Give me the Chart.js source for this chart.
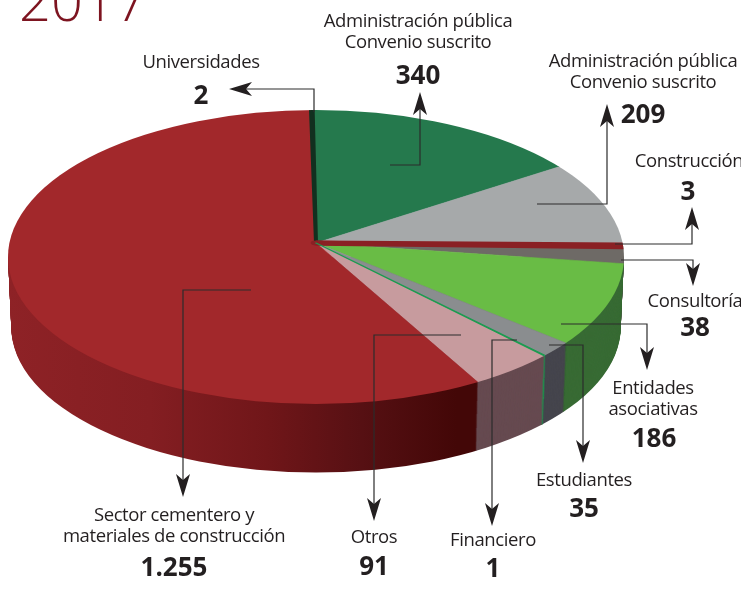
<!DOCTYPE html>
<html><head><meta charset="utf-8">
<style>html,body{margin:0;padding:0;background:#fff;overflow:hidden}canvas{display:block}</style>
<script src="https://cdn.jsdelivr.net/npm/chart.js@4"></script></head>
<body><canvas id="c" width="741" height="601"></canvas>
<script>
const categories=["Universidades","Administración pública (340)","Administración pública (209)","Construcción","Consultoría","Entidades asociativas","Estudiantes","Financiero","Otros","Sector cementero y materiales de construcción"];
const values=[2,340,209,3,38,186,35,1,91,1255];
const topColors=["#12301f","#25794d","#a6a9aa","#8a2024","#6e6a66","#69bc45","#8a8d8f","#1b9c50","#c79b9e","#a2282b"];
const sideColors=["#12301f","#25794d","#8a8d8f","#6a1a1c","#55534f","#386b34","#45454d","#1b9c50","#664a50","#7a1a1e"];
const thinBorder=[3,0,0,8,0,0,0,1.5,0,0];

// geometry of the tilted disc on the page: the wedges fan out from the apex, the rim is an ellipse around a lower centre
const apex={x:316,y:243},rim={x:316,y:257,rx:308,ry:147},fanX=400,fanUp=186,fanDown=200,depth=70,taper=0.00015;

const notes=[
 {lines:["Universidades"],x:201,y:[68],num:"2",nx:201,ny:104},
 {lines:["Administración pública","Convenio suscrito"],x:418,y:[27,48],num:"340",nx:418,ny:84},
 {lines:["Administración pública","Convenio suscrito"],x:643,y:[67,88],num:"209",nx:643,ny:123},
 {lines:["Construcción"],x:689,y:[167],num:"3",nx:688,ny:200},
 {lines:["Consultoría"],x:695,y:[307],num:"38",nx:695,ny:336},
 {lines:["Entidades","asociativas"],x:653,y:[394,415],num:"186",nx:654,ny:447},
 {lines:["Estudiantes"],x:584,y:[486],num:"35",nx:584,ny:517},
 {lines:["Financiero"],x:493,y:[546],num:"1",nx:493,ny:577},
 {lines:["Otros"],x:374,y:[543],num:"91",nx:374,ny:575},
 {lines:["Sector cementero y","materiales de construcción"],x:174,y:[521,542],num:"1.255",nx:174,ny:576}
];
const leaders=[
 [[314,112],[314,89],[229,89]],
 [[390,165],[420,165],[420,92]],
 [[537,204],[607,204],[607,104]],
 [[615,244],[692,244],[692,207]],
 [[621,260],[693,260],[693,286]],
 [[561,324],[647,324],[647,370]],
 [[549,345],[583,345],[583,463]],
 [[517,340],[492,340],[492,526]],
 [[461,335],[374,335],[374,521]],
 [[251,290],[183,290],[183,497]]
];

function fanTransform(ctx,arc,down,t){
 const r=arc.outerRadius;
 ctx.translate(apex.x,apex.y+t);
 ctx.scale(fanX/r,(down?fanDown:fanUp)/r);
 ctx.translate(-arc.x,-arc.y);
}
function flatOptions(bg,bw){
 return {backgroundColor:bg,borderColor:bg,borderWidth:bw,borderAlign:'center',borderJoinStyle:'round',borderRadius:0,spacing:0,offset:0,circular:true,selfJoin:false,borderDash:[],borderDashOffset:0};
}
function drawArc(ctx,arc,bg,bw){
 const keep=arc.options;
 arc.options=flatOptions(bg,bw);
 arc.draw(ctx);
 arc.options=keep;
}
const discPlugin={
 id:'disc',
 beforeDatasetDraw(chart,args){
  const ctx=chart.ctx,arcs=args.meta.data,W=chart.width,Hh=chart.height,first=arcs[0];
  // side wall, stacked layers of the same arcs
  const r=first.outerRadius;
  const redSide=ctx.createLinearGradient(first.x-r*0.77,0,first.x+r*0.41,0);
  redSide.addColorStop(0,"#8e2226");redSide.addColorStop(.3,"#841e22");
  redSide.addColorStop(.55,"#701619");redSide.addColorStop(.75,"#561013");redSide.addColorStop(.95,"#430707");redSide.addColorStop(1,"#430707");
  const last=arcs.length-1;
  for(let t=depth;t>=1;t--){
   const k=1-taper*t;
   ctx.save();
   ctx.beginPath();ctx.rect(0,rim.y+t-1,W,Hh);ctx.clip();
   ctx.beginPath();ctx.ellipse(rim.x,rim.y+t,rim.rx*k,rim.ry*k,0,0,Math.PI*2);ctx.clip();
   fanTransform(ctx,first,true,t);
   arcs.forEach((a,i)=>drawArc(ctx,a,i===last?redSide:sideColors[i],i===7?2:0.6));
   ctx.restore();
  }
  // top face: the fan above and below the apex, cut to the rim
  [false,true].forEach(down=>{
   ctx.save();
   ctx.beginPath();ctx.ellipse(rim.x,rim.y,rim.rx,rim.ry,0,0,Math.PI*2);ctx.clip();
   ctx.beginPath();
   if(down)ctx.rect(0,apex.y,W,Hh);else ctx.rect(0,0,W,apex.y);
   ctx.clip();
   fanTransform(ctx,first,down,0);
   arcs.forEach((a,i)=>{if(!thinBorder[i])drawArc(ctx,a,topColors[i],0.6);});
   arcs.forEach((a,i)=>{if(thinBorder[i])drawArc(ctx,a,topColors[i],thinBorder[i]);});
   ctx.restore();
  });
  return false;
 },
 afterDraw(chart){
  const ctx=chart.ctx;
  ctx.save();
  ctx.font='300 56px "Open Sans"';ctx.fillStyle="#7d1420";ctx.textAlign='left';ctx.textBaseline='alphabetic';
  ctx.fillText("2017",19,21);
  ctx.strokeStyle="#2c2c2c";ctx.lineWidth=1.2;ctx.fillStyle="#231f20";
  leaders.forEach(p=>{
   const n=p.length,tip=p[n-1],prev=p[n-2];
   const L=Math.hypot(tip[0]-prev[0],tip[1]-prev[1]),ux=(tip[0]-prev[0])/L,uy=(tip[1]-prev[1])/L;
   ctx.beginPath();ctx.moveTo(p[0][0],p[0][1]);
   for(let i=1;i<n-1;i++)ctx.lineTo(p[i][0],p[i][1]);
   ctx.lineTo(tip[0]-ux*12,tip[1]-uy*12);ctx.stroke();
   const vx=-uy,vy=ux;
   ctx.beginPath();ctx.moveTo(tip[0],tip[1]);
   ctx.lineTo(tip[0]-ux*23+vx*7,tip[1]-uy*23+vy*7);
   ctx.lineTo(tip[0]-ux*17,tip[1]-uy*17);
   ctx.lineTo(tip[0]-ux*23-vx*7,tip[1]-uy*23-vy*7);
   ctx.closePath();ctx.fill();
  });
  ctx.textAlign='center';ctx.fillStyle="#231f20";
  notes.forEach(n=>{
   ctx.font='400 18.5px "Open Sans"';
   ctx.letterSpacing='-0.4px';
   n.lines.forEach((s,i)=>ctx.fillText(s,n.x,n.y[i]));
   ctx.letterSpacing='0px';
   ctx.font='700 26px "Open Sans"';
   ctx.fillText(n.num,n.nx,n.ny);
  });
  ctx.restore();
 }
};
new Chart(document.getElementById('c'),{
 type:'pie',
 data:{labels:categories,datasets:[{data:values,backgroundColor:topColors,borderWidth:0}]},
 options:{responsive:false,animation:false,rotation:-1,layout:{padding:0},
  plugins:{legend:{display:false},tooltip:{enabled:false},title:{display:false}}},
 plugins:[discPlugin]
});
</script></body></html>
